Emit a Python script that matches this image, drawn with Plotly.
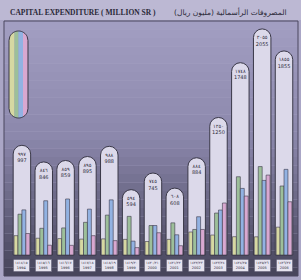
import math
import plotly.graph_objects as go

# ---- data ----
years = ["1994", "1995", "1996", "1997", "1998", "1999", "2000",
         "2001", "2002", "2003", "2004", "2005", "2006"]
hijri = ["١٤١٤/١٥", "١٤١٥/١٦", "١٤١٦/١٧", "١٤١٧/١٨", "١٤١٨/١٩", "١٤١٩/٢٠", "١٤٢٠/٢١",
         "١٤٢١/٢٢", "١٤٢٢/٢٣", "١٤٢٣/٢٤", "١٤٢٤/٢٥", "١٤٢٥/٢٦", "١٤٢٦/٢٧"]
totals = [997, 846, 859, 895, 988, 594, 745, 608, 884, 1250, 1748, 2055, 1855]
totals_ar = ["٩٩٧", "٨٤٦", "٨٥٩", "٨٩٥", "٩٨٨", "٥٩٤", "٧٤٥", "٦٠٨", "٨٨٤",
             "١٢٥٠", "١٧٤٨", "٢٠٥٥", "١٨٥٥"]
part_yellow = [152, 132, 129, 125, 127, 123, 106, 123, 181, 157, 144, 143, 219]
part_green = [321, 210, 213, 257, 314, 304, 232, 253, 201, 330, 616, 696, 543]
part_blue = [355, 427, 441, 361, 434, 109, 232, 159, 301, 354, 524, 587, 674]
part_pink = [169, 77, 76, 152, 113, 58, 175, 73, 201, 409, 464, 629, 419]

W, H = 301, 280
ML, MR, MT, MB = 4, 3, 21, 4
PW, PH = W - ML - MR, H - MT - MB

def px(x):
    return (x - ML) / PW

def py(y):
    return (H - MB - y) / PH

OUT = "#3a3848"
fig = go.Figure()

fig.add_trace(go.Bar(
    x=years, y=totals, width=0.8, offset=-0.4,
    marker=dict(color="#dcd9ea", line=dict(color=OUT, width=1), cornerradius="50%"),
    hoverinfo="skip", showlegend=False))

subs = [(part_yellow, "#d6d8a2", -0.36), (part_green, "#9dbf9a", -0.18),
        (part_blue, "#92b2e2", 0.0), (part_pink, "#d8a8d0", 0.18)]
for vals, col, off in subs:
    fig.add_trace(go.Bar(
        x=years, y=vals, width=0.18, offset=off, yaxis="y2",
        marker=dict(color=col, line=dict(color=OUT, width=0.6)),
        hoverinfo="skip", showlegend=False))

fig.add_trace(go.Scatter(
    x=years, y=totals, mode="text",
    text=[f"<br>{a}<br>{b}" for a, b in zip(totals_ar, totals)],
    textposition="bottom center",
    textfont=dict(family="DejaVu Sans", size=5, color="#2e2c3a"),
    hoverinfo="skip", showlegend=False))

shapes = []
# gradient panel background
top = (162, 158, 194)
mid = (140, 136, 172)
bot = (72, 70, 92)
N = 30
for i in range(N):
    t = i / (N - 1)
    if t < 0.45:
        u = t / 0.45
        c = [int(top[k] + (mid[k] - top[k]) * u) for k in range(3)]
    else:
        u = (t - 0.45) / 0.55
        c = [int(mid[k] + (bot[k] - mid[k]) * u) for k in range(3)]
    shapes.append(dict(type="rect", xref="paper", yref="paper", x0=0, x1=1,
                       y0=1 - (i + 1) / N, y1=1 - i / N, layer="below",
                       fillcolor=f"rgb({c[0]},{c[1]},{c[2]})", line=dict(width=0)))
shapes.append(dict(type="rect", xref="paper", yref="paper", x0=0, x1=1, y0=0, y1=1,
                   layer="below", line=dict(color="#4a475e", width=1)))
# title strip
shapes.append(dict(type="rect", xref="paper", yref="paper", x0=px(0), x1=px(W),
                   y0=py(20), y1=py(0), layer="below",
                   fillcolor="#bcb8d3", line=dict(width=0)))

# legend capsule on the left
cx, r = 18.5, 9.5
ctop, cbot = 40.5, 108.5
stripes = [(9.0, 14.5, "#d6d8a2"), (14.5, 18.5, "#9dbf9a"),
           (18.5, 23.0, "#92b2e2"), (23.0, 28.0, "#d8a8d0")]
for x0, x1, col in stripes:
    steps = 8
    xs = [x0 + (x1 - x0) * k / steps for k in range(steps + 1)]
    pts_top = [(x, ctop - math.sqrt(max(r * r - (x - cx) ** 2, 0))) for x in xs]
    pts_bot = [(x, cbot + math.sqrt(max(r * r - (x - cx) ** 2, 0))) for x in reversed(xs)]
    pts = pts_top + pts_bot
    path = "M " + " L ".join(f"{px(a):.5f},{py(b):.5f}" for a, b in pts) + " Z"
    shapes.append(dict(type="path", xref="paper", yref="paper", path=path,
                       fillcolor=col, line=dict(width=0)))
xs = [cx - r + 2 * r * k / 24 for k in range(25)]
pts = [(x, ctop - math.sqrt(max(r * r - (x - cx) ** 2, 0))) for x in xs] + \
      [(x, cbot + math.sqrt(max(r * r - (x - cx) ** 2, 0))) for x in reversed(xs)]
shapes.append(dict(type="path", xref="paper", yref="paper",
                   path="M " + " L ".join(f"{px(a):.5f},{py(b):.5f}" for a, b in pts) + " Z",
                   line=dict(color=OUT, width=1)))

annotations = [
    dict(x=px(8), y=py(13), xref="paper", yref="paper", xanchor="left", yanchor="middle",
         text="<b>CAPITAL EXPENDITURE ( MILLION SR )</b>", showarrow=False,
         font=dict(family="Liberation Serif", size=7.5, color="#2a2838")),
    dict(x=px(289), y=py(12), xref="paper", yref="paper", xanchor="right", yanchor="middle",
         text="المصروفات الرأسمالية (مليون ريال)", showarrow=False,
         font=dict(family="DejaVu Sans", size=7.5, color="#2a2838")),
]
for i, (y_g, y_h) in enumerate(zip(years, hijri)):
    annotations.append(dict(
        x=i, y=-92, xref="x", yref="y", text=f"{y_h}<br>{y_g}", showarrow=False,
        font=dict(family="DejaVu Sans", size=3.5, color="#2a2838"),
        bgcolor="#e6e4ef", bordercolor="#55536a", borderwidth=0.6, borderpad=1.5))

yr = [-191, 2127]
fig.update_layout(
    width=W, height=H, margin=dict(l=ML, r=MR, t=MT, b=MB),
    paper_bgcolor="#aaa6c6", plot_bgcolor="rgba(0,0,0,0)",
    barmode="overlay", showlegend=False,
    xaxis=dict(type="category", range=[-0.82, 12.64], visible=False, fixedrange=True),
    yaxis=dict(range=yr, visible=False, fixedrange=True),
    yaxis2=dict(range=[yr[0] * 0.866, yr[1] * 0.866], overlaying="y", visible=False,
                fixedrange=True),
    shapes=shapes, annotations=annotations,
)

fig.write_html("out.html", config={"displayModeBar": False},
               post_script="document.body.style.margin='0';")
